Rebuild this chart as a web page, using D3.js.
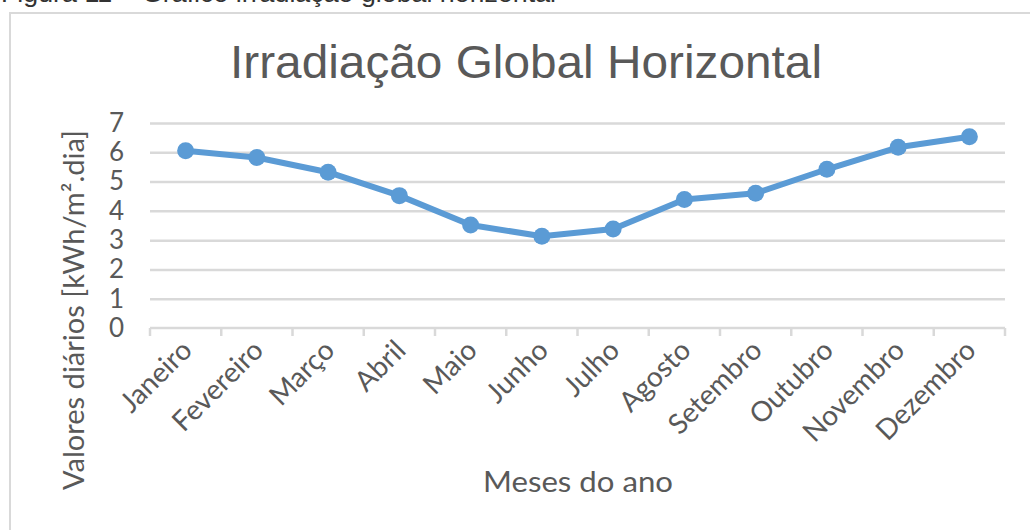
<!DOCTYPE html>
<html>

<head>
  <meta charset="utf-8">
  <title>Irradiação Global Horizontal</title>
  <style>
    body { margin: 0; background: #fff; }
  </style>
</head>

<body>
  <svg id="svg"></svg>

  <script src="https://d3js.org/d3.v7.min.js"></script>
  <script>
    // data
    const months = ["Janeiro", "Fevereiro", "Março", "Abril", "Maio", "Junho",
      "Julho", "Agosto", "Setembro", "Outubro", "Novembro", "Dezembro"];
    const irradiation = [6.05, 5.82, 5.32, 4.52, 3.52, 3.13, 3.38, 4.39, 4.6, 5.42, 6.17, 6.53];
    const yTicks = [0, 1, 2, 3, 4, 5, 6, 7];

    const width = 1030, height = 530;
    const margin = { top: 123, right: 25, bottom: 202, left: 150 };
    const plotW = width - margin.left - margin.right;
    const plotH = height - margin.top - margin.bottom;

    const textColor = "#595959";
    const gridColor = "#d9d9d9";
    const lineColor = "#5b9bd5";
    const labelFont = "Lato, 'Open Sans', sans-serif";

    const svg = d3.select("#svg")
      .attr("width", width)
      .attr("height", height);

    // caption cut off at the top of the page
    svg.append("text")
      .attr("x", 1)
      .attr("y", 2)
      .attr("font-family", "'Liberation Sans', Arial, sans-serif")
      .attr("font-size", 25)
      .attr("textLength", 555)
      .attr("lengthAdjust", "spacingAndGlyphs")
      .attr("fill", "#333")
      .text("Figura 11 – Gráfico irradiação global horizontal");

    // chart frame
    svg.append("rect")
      .attr("x", 10)
      .attr("y", 13)
      .attr("width", 1040)
      .attr("height", 540)
      .attr("fill", "none")
      .attr("stroke", gridColor)
      .attr("stroke-width", 2);

    svg.append("text")
      .attr("x", 526)
      .attr("y", 78)
      .attr("text-anchor", "middle")
      .attr("font-family", "'Liberation Sans', Arial, sans-serif")
      .attr("font-size", 46)
      .attr("textLength", 592)
      .attr("lengthAdjust", "spacingAndGlyphs")
      .attr("fill", textColor)
      .text("Irradiação Global Horizontal");

    const x = d3.scaleBand().domain(months).range([0, plotW]);
    const y = d3.scaleLinear().domain([0, 7]).range([plotH, 0]);

    const g = svg.append("g")
      .attr("transform", `translate(${margin.left}, ${margin.top})`);

    // gridlines + y labels
    const yAxis = g.append("g")
      .call(d3.axisLeft(y).tickValues(yTicks).tickSize(-plotW).tickPadding(26).tickFormat(d3.format("d")));
    yAxis.select(".domain").remove();
    yAxis.selectAll(".tick line")
      .attr("stroke", gridColor)
      .attr("stroke-width", 2.5)
      .filter(d => d === 0).remove();
    yAxis.selectAll(".tick text")
      .attr("fill", textColor)
      .attr("font-family", labelFont)
      .attr("font-size", 26);

    // x axis with tick marks at band edges
    const xAxis = g.append("g")
      .attr("transform", `translate(0, ${plotH})`);
    xAxis.append("line")
      .attr("x1", 0).attr("x2", plotW)
      .attr("stroke", gridColor)
      .attr("stroke-width", 2.5);
    xAxis.selectAll(".edge")
      .data(months.concat(["end"]))
      .join("line")
      .attr("class", "edge")
      .attr("x1", (d, i) => i * x.bandwidth())
      .attr("x2", (d, i) => i * x.bandwidth())
      .attr("y1", 0)
      .attr("y2", 8)
      .attr("stroke", gridColor)
      .attr("stroke-width", 2.5);
    xAxis.selectAll(".label")
      .data(months)
      .join("text")
      .attr("class", "label")
      .attr("transform", d => `translate(${x(d) + x.bandwidth() / 2 + 8}, 24) rotate(-45)`)
      .attr("text-anchor", "end")
      .attr("fill", textColor)
      .attr("font-family", labelFont)
      .attr("font-size", 28)
      .text(d => d);

    // series
    const line = d3.line()
      .x((d, i) => x(months[i]) + x.bandwidth() / 2)
      .y(d => y(d));

    g.append("path")
      .datum(irradiation)
      .attr("d", line)
      .attr("fill", "none")
      .attr("stroke", lineColor)
      .attr("stroke-width", 6)
      .attr("stroke-linejoin", "round");

    g.selectAll("circle")
      .data(irradiation)
      .join("circle")
      .attr("cx", (d, i) => x(months[i]) + x.bandwidth() / 2)
      .attr("cy", d => y(d))
      .attr("r", 8.5)
      .attr("fill", lineColor);

    // axis titles
    svg.append("text")
      .attr("x", 578)
      .attr("y", 492)
      .attr("text-anchor", "middle")
      .attr("font-family", labelFont)
      .attr("font-size", 29)
      .attr("textLength", 190)
      .attr("lengthAdjust", "spacingAndGlyphs")
      .attr("fill", textColor)
      .text("Meses do ano");

    svg.append("text")
      .attr("transform", "translate(84, 310) rotate(-90)")
      .attr("text-anchor", "middle")
      .attr("font-family", labelFont)
      .attr("font-size", 28)
      .attr("textLength", 360)
      .attr("lengthAdjust", "spacingAndGlyphs")
      .attr("fill", textColor)
      .text("Valores diários [kWh/m².dia]");
  </script>
</body>

</html>
